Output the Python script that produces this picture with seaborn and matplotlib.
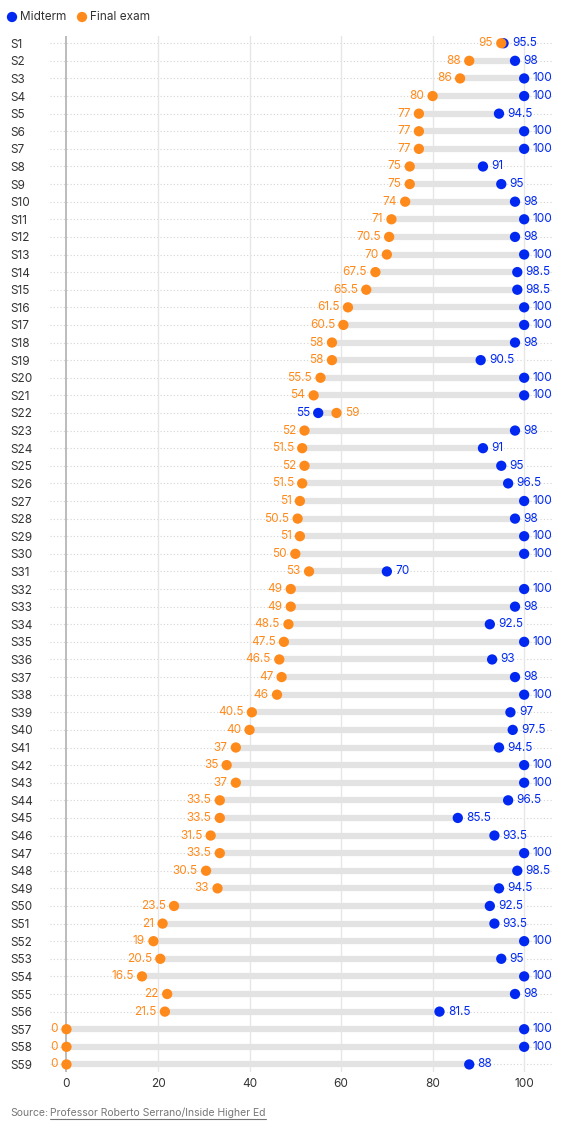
import numpy as np
import pandas as pd
import seaborn as sns
import matplotlib.pyplot as plt

students = ["S%d" % i for i in range(1, 60)]
midterm = [95.5, 98, 100, 100, 94.5, 100, 100, 91, 95, 98,
           100, 98, 100, 98.5, 98.5, 100, 100, 98, 90.5, 100,
           100, 55, 98, 91, 95, 96.5, 100, 98, 100, 100,
           70, 100, 98, 92.5, 100, 93, 98, 100, 97, 97.5,
           94.5, 100, 100, 96.5, 85.5, 93.5, 100, 98.5, 94.5, 92.5,
           93.5, 100, 95, 100, 98, 81.5, 100, 100, 88]
final_exam = [95, 88, 86, 80, 77, 77, 77, 75, 75, 74,
              71, 70.5, 70, 67.5, 65.5, 61.5, 60.5, 58, 58, 55.5,
              54, 59, 52, 51.5, 52, 51.5, 51, 50.5, 51, 50,
              53, 49, 49, 48.5, 47.5, 46.5, 47, 46, 40.5, 40,
              37, 35, 37, 33.5, 33.5, 31.5, 33.5, 30.5, 33, 23.5,
              21, 19, 20.5, 16.5, 22, 21.5, 0, 0, 0]
x_ticks = [0, 20, 40, 60, 80, 100]

BLUE = "#0028f0"
ORANGE = "#ff8a1c"
TXT = "#333333"

sns.set_style("white")
plt.rcParams["font.family"] = ["Inter", "DejaVu Sans"]

df = pd.DataFrame({"student": students, "Midterm": midterm, "Final exam": final_exam})
df["row"] = np.arange(len(df))
long = df.melt(id_vars=["student", "row"], value_vars=["Midterm", "Final exam"],
               var_name="exam", value_name="score")

W, H = 568, 1134
fig = plt.figure(figsize=(W / 100, H / 100), dpi=100)
ax = fig.add_axes([50 / W, 1 - 1072 / H, (553 - 50) / W, (1072 - 36) / H])

# dotted row guides and vertical gridlines
for r in df["row"]:
    ax.axhline(r, color="#d4d4d4", lw=0.8, ls=(0, (1, 2)), zorder=0)
for t in x_ticks[1:]:
    ax.axvline(t, color="#e6e6e6", lw=1, zorder=0)
ax.axvline(0, color="#b0b0b0", lw=1.2, zorder=0.5)

# connecting bars
ax.hlines(df["row"], df[["Midterm", "Final exam"]].min(axis=1),
          df[["Midterm", "Final exam"]].max(axis=1),
          color="#e3e3e3", lw=4.5, zorder=1)

sns.scatterplot(data=long[long.exam == "Midterm"], x="score", y="row", color=BLUE,
                s=55, edgecolor="none", zorder=3, ax=ax, legend=False)
sns.scatterplot(data=long[long.exam == "Final exam"], x="score", y="row", color=ORANGE,
                s=55, edgecolor="none", zorder=4, ax=ax, legend=False)

# value labels: higher score on the right, lower on the left
for _, d in df.iterrows():
    m, f, r = d["Midterm"], d["Final exam"], d["row"]
    if m >= f:
        hi, hc, lo, lc = m, BLUE, f, ORANGE
    else:
        hi, hc, lo, lc = f, ORANGE, m, BLUE
    ax.annotate("%g" % hi, (hi, r), xytext=(6, 0), textcoords="offset points",
                ha="left", va="center", color=hc, fontsize=8.5)
    ax.annotate("%g" % lo, (lo, r), xytext=(-6, 0), textcoords="offset points",
                ha="right", va="center", color=lc, fontsize=8.5)

ax.set_xlim(-3.6, 106.3)
ax.set_ylim(58.43, -0.41)
ax.set_xticks(x_ticks)
ax.set_xticklabels([str(t) for t in x_ticks], color=TXT, fontsize=8.5)
ax.set_yticks(df["row"])
ax.set_yticklabels(students, color=TXT, fontsize=8.5, ha="left")
ax.tick_params(axis="y", length=0, pad=28.8)
ax.tick_params(axis="x", length=0, pad=4)
ax.set_xlabel("")
ax.set_ylabel("")
for s in ax.spines.values():
    s.set_visible(False)

# legend
lax = fig.add_axes([0, 1 - 30 / H, 1, 26 / H])
lax.set_xlim(0, W)
lax.set_ylim(0, 26)
lax.axis("off")
lax.scatter([12], [13], s=55, color=BLUE, edgecolor="none")
lax.text(20, 13, "Midterm", va="center", ha="left", fontsize=8.5, color=TXT)
lax.scatter([82], [13], s=55, color=ORANGE, edgecolor="none")
lax.text(90, 13, "Final exam", va="center", ha="left", fontsize=8.5, color=TXT)

# source
fig.text(10 / W, 1 - 1113 / H, "Source:", fontsize=7.5, color="#777777", va="center")
src = fig.text(50 / W, 1 - 1113 / H, "Professor Roberto Serrano/Inside Higher Ed",
               fontsize=7.5, color="#777777", va="center")
fig.canvas.draw()
bb = src.get_window_extent()
fig.add_artist(plt.Line2D([bb.x0 / W, bb.x1 / W], [(bb.y0 - 1) / H, (bb.y0 - 1) / H],
                          color="#777777", lw=0.8, transform=fig.transFigure))

fig.savefig("out.png", dpi=100)
